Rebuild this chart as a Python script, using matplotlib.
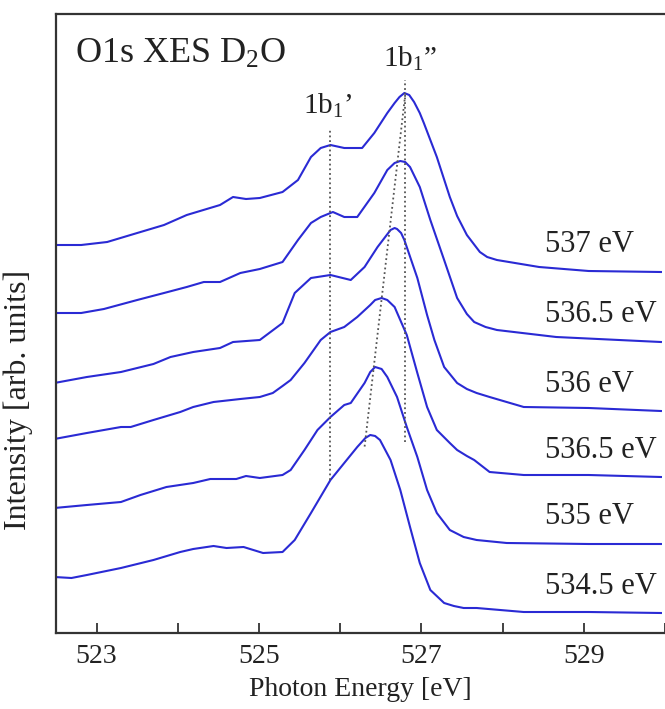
import numpy as np
import matplotlib
matplotlib.use("Agg")
import matplotlib.pyplot as plt

plt.rcParams['font.family'] = ['Liberation Serif', 'DejaVu Serif']
plt.rcParams['mathtext.fontset'] = 'custom'
plt.rcParams['mathtext.rm'] = 'Liberation Serif'
plt.rcParams['mathtext.it'] = 'Liberation Serif:italic'

# ---------------- data ----------------
excitation_labels = ["537 eV", "536.5 eV", "536 eV", "536.5 eV", "535 eV", "534.5 eV"]
offsets = [361, 291, 222, 156, 89, 20]

e1 = [522.48, 522.81, 523.13, 523.50, 523.83, 524.11, 524.52, 524.68, 524.84, 525.01, 525.29, 525.48,
      525.64, 525.76, 525.88, 526.05, 526.27, 526.42, 526.58, 526.67, 526.73, 526.79, 526.85, 526.91,
      526.98, 527.03, 527.19, 527.35, 527.44, 527.56, 527.72, 527.81, 527.93, 528.45, 529.06, 529.95]
i1 = [27, 27, 30, 39, 47, 57, 67, 75, 73, 74, 80, 92,
      115, 124, 127, 124, 124, 139, 159, 169, 175, 179, 177, 170,
      159, 149, 115, 75, 56, 37, 20, 15, 12, 5, 1, 0]

e2 = [522.48, 522.81, 523.09, 523.50, 523.83, 524.11, 524.32, 524.52, 524.77, 525.01, 525.29, 525.48,
      525.64, 525.76, 525.91, 526.05, 526.21, 526.42, 526.58, 526.67, 526.74, 526.80, 526.86, 526.98,
      527.11, 527.28, 527.44, 527.56, 527.65, 527.79, 527.93, 528.66, 529.95]
i2 = [29, 29, 33, 42, 49, 55, 60, 60, 69, 73, 80, 102,
      119, 125, 130, 125, 125, 149, 172, 179, 181, 180, 175, 155,
      122, 82, 44, 28, 20, 15, 12, 5, 0]

e3 = [522.48, 522.88, 523.30, 523.70, 523.91, 524.19, 524.52, 524.68, 525.01, 525.29, 525.44, 525.64,
      525.88, 526.13, 526.30, 526.46, 526.62, 526.67, 526.70, 526.75, 526.79, 526.95, 527.07, 527.16,
      527.28, 527.44, 527.56, 527.68, 527.84, 528.26, 529.06, 529.95]
i3 = [28, 34, 39, 47, 54, 59, 63, 69, 71, 88, 118, 133,
      136, 131, 144, 164, 181, 183, 182, 178, 171, 133, 96, 71,
      44, 28, 22, 18, 14, 4, 3, 0]

e4 = [522.48, 522.88, 523.30, 523.42, 523.70, 524.03, 524.19, 524.44, 524.77, 525.01, 525.17, 525.29,
      525.39, 525.56, 525.76, 525.88, 526.05, 526.21, 526.37, 526.43, 526.51, 526.58, 526.67, 526.82,
      526.95, 527.07, 527.19, 527.35, 527.44, 527.56, 527.65, 527.84, 528.26, 529.06, 529.95]
i4 = [38, 44, 50, 50, 57, 65, 70, 75, 78, 80, 84, 91,
      97, 114, 137, 145, 150, 160, 172, 177, 179, 177, 170, 142,
      104, 70, 47, 34, 27, 21, 17, 5, 2, 2, 0]

e5 = [522.48, 522.88, 523.30, 523.54, 523.86, 524.19, 524.40, 524.72, 524.84, 525.01, 525.29, 525.39,
      525.56, 525.72, 525.88, 526.05, 526.13, 526.30, 526.37, 526.43, 526.51, 526.58, 526.70, 526.82,
      526.95, 527.07, 527.19, 527.35, 527.52, 527.68, 528.05, 529.06, 529.95]
i5 = [36, 39, 42, 49, 57, 61, 65, 65, 68, 66, 69, 74,
      94, 114, 127, 139, 141, 161, 172, 177, 175, 167, 147, 117,
      87, 54, 31, 14, 7, 4, 1, 0, 0]

e6 = [522.48, 522.69, 522.88, 523.30, 523.70, 524.03, 524.19, 524.44, 524.60, 524.81, 525.05, 525.29,
      525.44, 525.64, 525.88, 526.05, 526.21, 526.31, 526.37, 526.43, 526.49, 526.62, 526.74, 526.86,
      526.98, 527.11, 527.28, 527.40, 527.52, 527.68, 528.26, 529.06, 529.95]
i6 = [36, 35, 38, 45, 53, 61, 64, 67, 65, 66, 60, 61,
      73, 100, 133, 150, 166, 175, 178, 177, 173, 153, 123, 86,
      50, 23, 10, 7, 5, 5, 1, 1, 0]

energies = [e1, e2, e3, e4, e5, e6]
intensities = [i1, i2, i3, i4, i5, i6]

# peak guide lines
b1p_energy = 525.88
b1p_range = [153, 503]
b1pp_energy = 526.80
b1pp_range = [191, 553]
shift_line_e = [526.80, 526.30]
shift_line_i = [538, 186]

# ---------------- figure ----------------
fig = plt.figure(figsize=(6.65, 7.09), dpi=100)
ax = fig.add_axes([56/665, 76/709, 609/665, 619/709])

blue = '#2a2ad4'
for e, inten, off in zip(energies, intensities, offsets):
    ax.plot(e, np.array(inten) + off, color=blue, lw=1.5, solid_joinstyle='round')

for lab, off in zip(excitation_labels, offsets):
    ax.text(528.52, off + 27, lab, fontsize=22, ha='left', va='center', color='#222222')

dot = dict(color='#555555', lw=1.3, linestyle=(0, (1, 1.6)))
ax.plot([b1p_energy, b1p_energy], b1p_range, **dot)
ax.plot([b1pp_energy, b1pp_energy], b1pp_range, **dot)
ax.plot(shift_line_e, shift_line_i, **dot)

ax.text(525.85, 527, "1b$_1$\u2019", fontsize=21, ha='center', va='center', color='#222222')
ax.text(526.86, 574, "1b$_1$\u201d", fontsize=21, ha='center', va='center', color='#222222')
ax.text(522.73, 570, "O1s XES D$_2$O", fontsize=26, ha='left', va='baseline', color='#222222')

ax.set_xlim(522.5, 530)
ax.set_ylim(0, 619)
ax.set_xticks([523, 525, 527, 529])
ax.set_xticks([524, 526, 528, 530], minor=True)
ax.set_yticks([])
ax.tick_params(axis='x', which='both', direction='in', length=7, width=1.3,
               labelsize=20, pad=8, colors='#333333', labelcolor='#222222')
for s in ['left', 'top', 'bottom']:
    ax.spines[s].set_linewidth(1.6)
    ax.spines[s].set_color('#333333')
ax.spines['right'].set_visible(False)

ax.set_xlabel("Photon Energy [eV]", fontsize=20, color='#222222', labelpad=6)
fig.text(18/665, 1 - 400/709, "Intensity [arb. units]", rotation=90, fontsize=23,
         ha='center', va='center', color='#222222')

fig.savefig("out.png", dpi=100)
